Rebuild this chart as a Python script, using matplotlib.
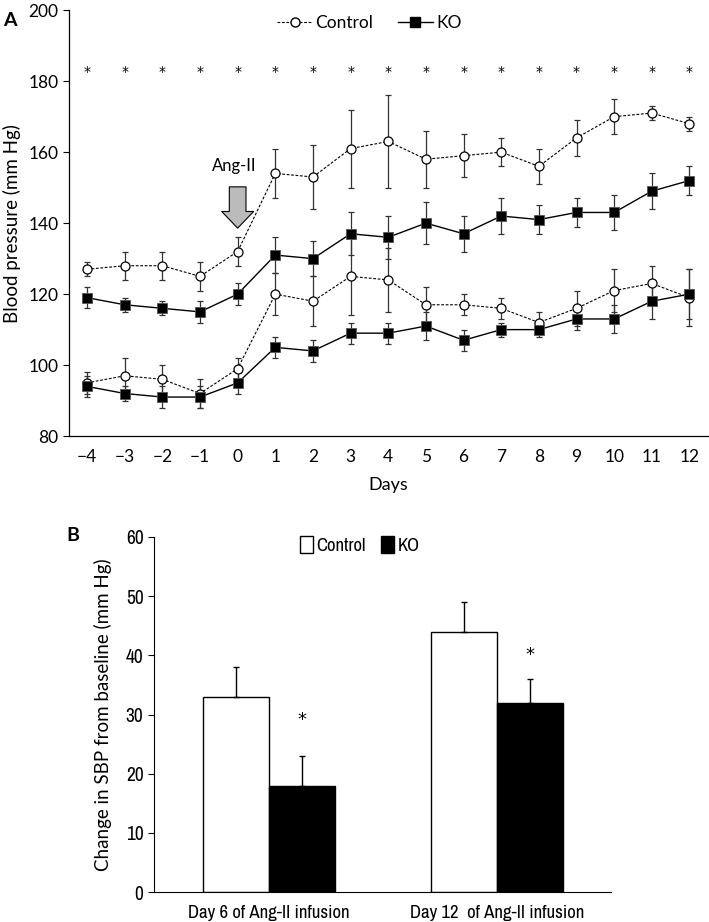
import matplotlib
matplotlib.use('Agg')
import matplotlib.pyplot as plt
from matplotlib import font_manager
import numpy as np

plt.rcParams['font.family'] = ['Lato', 'DejaVu Sans']

# Panel A data
days = [-4, -3, -2, -1, 0, 1, 2, 3, 4, 5, 6, 7, 8, 9, 10, 11, 12]
ctrl_sbp = [127, 128, 128, 125, 132, 154, 153, 161, 163, 158, 159, 160, 156, 164, 170, 171, 168]
ctrl_sbp_err = [2, 4, 4, 4, 4, 7, 9, 11, 13, 8, 6, 4, 5, 5, 5, 2, 2]
ko_sbp = [119, 117, 116, 115, 120, 131, 130, 137, 136, 140, 137, 142, 141, 143, 143, 149, 152]
ko_sbp_err = [3, 2, 2, 3, 3, 5, 5, 6, 6, 6, 5, 5, 4, 4, 5, 5, 4]
ctrl_dbp = [95, 97, 96, 92, 99, 120, 118, 125, 124, 117, 117, 116, 112, 116, 121, 123, 119]
ctrl_dbp_err = [3, 5, 4, 4, 3, 6, 7, 11, 9, 5, 3, 3, 3, 5, 6, 5, 8]
ko_dbp = [94, 92, 91, 91, 95, 105, 104, 109, 109, 111, 107, 110, 110, 113, 113, 118, 120]
ko_dbp_err = [3, 2, 3, 3, 3, 3, 3, 3, 3, 4, 3, 2, 2, 3, 4, 5, 7]
star_level = 182.5

# Panel B data
groups = ['Day 6 of Ang-II infusion', 'Day 12  of Ang-II infusion']
ctrl_change = [33, 44]
ctrl_change_err = [5, 5]
ko_change = [18, 32]
ko_change_err = [5, 4]
ko_star = [29, 40]

fig = plt.figure(figsize=(7.09, 9.22), dpi=100)

# ---------- Panel A ----------
ax = fig.add_axes([0.0973, 0.527, 0.9017, 0.462])
lw = 0.9
ekw = dict(ecolor='#333333', elinewidth=lw, capsize=2.2, capthick=lw)
for y, e in [(ctrl_sbp, ctrl_sbp_err), (ctrl_dbp, ctrl_dbp_err)]:
    ax.errorbar(days, y, yerr=e, fmt='none', zorder=2, **ekw)
    ax.plot(days, y, ls=(0, (2.5, 1.5)), color='black', lw=0.8, marker='o', ms=6.5,
            mfc='white', mec='black', mew=0.9, zorder=3)
for y, e in [(ko_sbp, ko_sbp_err), (ko_dbp, ko_dbp_err)]:
    ax.errorbar(days, y, yerr=e, fmt='none', zorder=2, **ekw)
    ax.plot(days, y, ls='-', color='black', lw=1.0, marker='s', ms=6.5,
            mfc='black', mec='#555555', mew=0.6, zorder=4)

for d in days:
    ax.text(d, star_level, '*', ha='center', va='center', fontsize=10, family='DejaVu Sans')

ax.annotate('', xy=(0, 137.8), xytext=(0, 151),
            arrowprops=dict(arrowstyle='simple,head_width=2.3,head_length=1.2,tail_width=1.2',
                            fc='#bbbbbb', ec='black', lw=0.8))
ax.text(-0.1, 156, 'Ang-II', ha='center', va='center', fontsize=12)

ax.set_xlim(-4.48, 12.5)
ax.set_ylim(80, 200)
ax.set_yticks(range(80, 201, 20))
ax.set_xticks(days)
ax.set_xticklabels([str(d).replace('-', '\u2212') for d in days])
ax.tick_params(axis='x', length=0, labelsize=12.5, pad=9)
ax.tick_params(axis='y', length=4, width=0.8, labelsize=12.5, direction='out')
for s in ['top', 'right']:
    ax.spines[s].set_visible(False)
for s in ['left', 'bottom']:
    ax.spines[s].set_linewidth(0.9)
ax.set_ylabel('Blood pressure (mm Hg)', fontsize=13.5, labelpad=5)
ax.set_xlabel('Days', fontsize=13, labelpad=9)

h1, = ax.plot([], [], ls=(0, (2.5, 1.5)), color='black', lw=0.8, marker='o', ms=6.5,
              mfc='white', mec='black')
h2, = ax.plot([], [], ls='-', color='black', lw=1.0, marker='s', ms=6.5, mfc='black', mec='black')
ax.legend([h1, h2], ['Control', 'KO'], loc='upper center', bbox_to_anchor=(0.47, 1.025),
          ncol=2, frameon=False, fontsize=12.5, handlelength=2.0, handletextpad=0.2,
          columnspacing=1.4)
fig.text(0.005, 0.987, 'A', fontsize=14, fontweight='bold', va='top')

# ---------- Panel B ----------
narrow = None
for f in font_manager.fontManager.ttflist:
    if 'Narrow' in f.name or 'Condensed' in f.name:
        narrow = f.name
        break
bfont = [narrow, 'Lato', 'DejaVu Sans'] if narrow else ['Lato', 'DejaVu Sans']

bx = fig.add_axes([0.2172, 0.0325, 0.6448, 0.3851])
x = np.arange(len(groups))
w = 0.2885
bx.bar(x - w / 2, ctrl_change, w, color='white', edgecolor='black', lw=1.0,
       yerr=[np.zeros(2), ctrl_change_err], capsize=2.2,
       error_kw=dict(elinewidth=1.0, capthick=1.0, ecolor='black'), label='Control')
bx.errorbar(x + w / 2, ko_change, yerr=[np.zeros(2), ko_change_err], fmt='none',
            ecolor='black', elinewidth=1.0, capsize=2.2, capthick=1.0)
bx.bar(x + w / 2, ko_change, w, color='black', edgecolor='black', lw=1.0, label='KO')
for xi, s in zip(x, ko_star):
    bx.text(xi + w / 2, s, '*', ha='center', va='center', fontsize=13, family='DejaVu Sans')

bx.set_xlim(-0.505, 1.5)
bx.set_ylim(0, 60)
bx.set_yticks(range(0, 61, 10))
bx.set_xticks(x)
bx.set_xticklabels(groups, family=bfont, fontsize=13.5)
bx.tick_params(axis='x', length=0, pad=9)
bx.tick_params(axis='y', length=4, width=0.8, direction='out', labelsize=14)
for t in bx.get_yticklabels():
    t.set_family(bfont)
for s in ['top', 'right']:
    bx.spines[s].set_visible(False)
bx.set_ylabel('Change in SBP from baseline (mm Hg)', fontsize=13.5, labelpad=10)
bx.legend(loc='upper center', bbox_to_anchor=(0.45, 1.05), ncol=2, frameon=False,
          prop={'family': bfont, 'size': 13.5}, handlelength=0.7, handleheight=1.0,
          handletextpad=0.2, columnspacing=0.8)
fig.text(0.093, 0.419, 'B', fontsize=14, fontweight='bold', va='center')

fig.savefig('out.png', dpi=100)
